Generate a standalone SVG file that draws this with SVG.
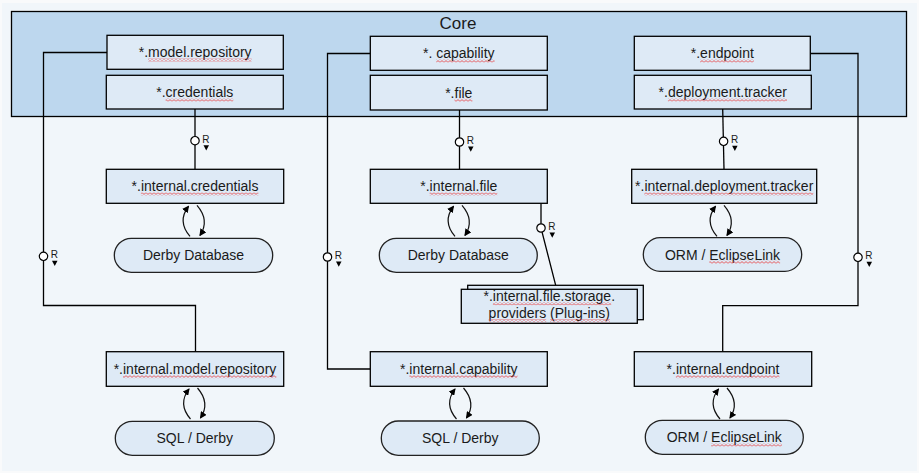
<svg xmlns="http://www.w3.org/2000/svg" xmlns:xlink="http://www.w3.org/1999/xlink" width="919" height="473" viewBox="0 0 919 473">
<style>
text{font-family:"Liberation Sans",Arial,sans-serif;font-size:14px;fill:#1a1a1a;text-anchor:middle}
.box{fill:#DEEAF6;stroke:#000;stroke-width:1.3}
.pill{fill:#DEEAF6;stroke:#222;stroke-width:1.3}
.ln{fill:none;stroke:#000;stroke-width:1.3}
.arc{fill:none;stroke:#111;stroke-width:1.2}
.sq{fill:url(#wave)}
.rt{font-size:10px;text-anchor:start}
</style>
<defs>
<pattern id="wave" patternUnits="userSpaceOnUse" x="0" y="0" width="4" height="3">
<path d="M0,2.4 L2,0.6 L4,2.4" fill="none" stroke="#e8393a" stroke-width="0.8"/>
</pattern>
<marker id="ah" markerUnits="userSpaceOnUse" markerWidth="7" markerHeight="7" refX="6" refY="3.5" orient="auto">
<path d="M0,0 L7,3.5 L0,7 z" fill="#000"/>
</marker>
<g id="loop">
<path class="arc" d="M-5,33 Q-18,18 -6.5,3" marker-end="url(#ah)"/>
<path class="arc" d="M2,2 Q15,17 5,32" marker-end="url(#ah)"/>
</g>
<g id="rmark">
<circle cx="0" cy="0" r="4.2" fill="#fff" stroke="#000" stroke-width="1.2"/>
<text class="rt" x="7.3" y="2">R</text>
<path d="M8.5,4.5 L14,4.5 L11.25,9.8 z" fill="#000"/>
</g>
</defs>
<rect x="0" y="0" width="919" height="473" fill="#F9FAFB"/>
<rect x="2" y="3" width="915" height="468" fill="#F1F6FA"/>

<g id="core">
<rect x="11.5" y="11.5" width="895" height="105" fill="#BDD7EE" stroke="#000" stroke-width="1.3"/>
<text x="458" y="29" style="font-size:17px">Core</text>
</g>

<g id="connectors">
<path class="ln" d="M107,52.5 H43.5 V305.5 H195.5 V351.7"/>
<path class="ln" d="M195,109 V169.3"/>
<path class="ln" d="M370.3,53.5 H327.5 V369 H370.3"/>
<path class="ln" d="M459.5,110 V169.3"/>
<path class="ln" d="M541,203.3 V228 L555.7,285.3"/>
<path class="ln" d="M722.7,109 L724,169.3"/>
<path class="ln" d="M810.3,53.5 H858 V305.7 H722.7 V351.7"/>
<use href="#rmark" x="43.5" y="256.3"/>
<use href="#rmark" x="195" y="140.7"/>
<use href="#rmark" x="327.5" y="257"/>
<use href="#rmark" x="459.5" y="142"/>
<use href="#rmark" x="541" y="228"/>
<use href="#rmark" x="723.6" y="141.3"/>
<use href="#rmark" x="858" y="257.3"/>
<use href="#loop" x="195" y="203.3"/>
<use href="#loop" x="460" y="203.3"/>
<use href="#loop" x="722" y="203.3"/>
<use href="#loop" x="195.5" y="386"/>
<use href="#loop" x="461.5" y="386"/>
<use href="#loop" x="725" y="386"/>
</g>

<g id="model-repository">
<rect class="box" x="107" y="35.3" width="176.3" height="34"/>
<text x="195.2" y="57.3">*.model.repository</text>
<rect class="sq" x="148.1" y="58.5" width="103.5" height="3"/>
</g>
<g id="credentials">
<rect class="box" x="106.3" y="75.3" width="177" height="33.7"/>
<text x="194.8" y="97.3">*.credentials</text>
<rect class="sq" x="165.6" y="98.5" width="67.7" height="3"/>
</g>
<g id="capability">
<rect class="box" x="370.3" y="36.3" width="177" height="34"/>
<text x="458.8" y="58.3">*. capability</text>
<rect class="sq" x="436.2" y="59.5" width="58.4" height="3"/>
</g>
<g id="file">
<rect class="box" x="370.3" y="75.3" width="177" height="34.7"/>
<text x="458.8" y="97.5">*.file</text>
<rect class="sq" x="454.5" y="98.7" width="17.9" height="3"/>
</g>
<g id="endpoint">
<rect class="box" x="634.3" y="36.3" width="176" height="34"/>
<text x="722.3" y="58.3">*.endpoint</text>
<rect class="sq" x="700.1" y="59.5" width="53.7" height="3"/>
</g>
<g id="deployment-tracker">
<rect class="box" x="634.3" y="75.3" width="177" height="33.7"/>
<text x="722.8" y="97.3">*.deployment.tracker</text>
<rect class="sq" x="667.9" y="98.5" width="119.1" height="3"/>
</g>

<g id="internal-credentials">
<rect class="box" x="106.3" y="169.3" width="177.4" height="34"/>
<text x="195" y="191.3">*.internal.credentials</text>
<rect class="sq" x="140.9" y="192.5" width="117.5" height="3"/>
</g>
<g id="internal-file">
<rect class="box" x="370.3" y="169.3" width="177" height="34"/>
<text x="458.8" y="191.3">*.internal.file</text>
<rect class="sq" x="429.6" y="192.5" width="67.7" height="3"/>
</g>
<g id="internal-deployment-tracker">
<rect class="box" x="631.7" y="169.3" width="185" height="34"/>
<text x="724.2" y="191.3">*.internal.deployment.tracker</text>
<rect class="sq" x="644.4" y="192.5" width="168.9" height="3"/>
</g>

<g id="derby-db-1">
<rect class="pill" x="114.3" y="238.3" width="158.4" height="34" rx="17"/>
<text x="193.5" y="260.3">Derby Database</text>
</g>
<g id="derby-db-2">
<rect class="pill" x="379.3" y="238.3" width="158" height="34" rx="17"/>
<text x="458.3" y="260.3">Derby Database</text>
</g>
<g id="orm-1">
<rect class="pill" x="643.3" y="237.7" width="158.4" height="33.6" rx="16.8"/>
<text x="722.5" y="259.5">ORM / EclipseLink</text>
<rect class="sq" x="709.3" y="260.7" width="70.8" height="3"/>
</g>

<g id="storage-providers">
<rect class="box" x="467.7" y="285.3" width="175.6" height="34.4"/>
<rect class="box" x="461.3" y="289.3" width="176" height="34"/>
<text x="549.3" y="301">*.internal.file.storage.</text>
<text x="549.3" y="318">providers (Plug-ins)</text>
<rect class="sq" x="492.9" y="302.2" width="118.3" height="3"/>
<rect class="sq" x="488.6" y="319.2" width="57.6" height="3"/>
<rect class="sq" x="550.1" y="319.2" width="59.9" height="3"/>
</g>

<g id="internal-model-repository">
<rect class="box" x="106.3" y="351.7" width="177.4" height="34.6"/>
<text x="195" y="374">*.internal.model.repository</text>
<rect class="sq" x="123" y="375.2" width="153.3" height="3"/>
</g>
<g id="internal-capability">
<rect class="box" x="370.3" y="351.7" width="177" height="34.6"/>
<text x="458.8" y="374">*.internal.capability</text>
<rect class="sq" x="409.4" y="375.2" width="108.1" height="3"/>
</g>
<g id="internal-endpoint">
<rect class="box" x="634.3" y="351.7" width="177.4" height="34.6"/>
<text x="723" y="374">*.internal.endpoint</text>
<rect class="sq" x="675.9" y="375.2" width="103.5" height="3"/>
</g>

<g id="sql-derby-1">
<rect class="pill" x="115.3" y="421.3" width="159" height="34" rx="17"/>
<text x="194.8" y="443.3">SQL / Derby</text>
</g>
<g id="sql-derby-2">
<rect class="pill" x="381.3" y="421" width="158" height="34.3" rx="17"/>
<text x="460.3" y="443">SQL / Derby</text>
</g>
<g id="orm-2">
<rect class="pill" x="645.3" y="420.3" width="158" height="34" rx="17"/>
<text x="724.3" y="442.3">ORM / EclipseLink</text>
<rect class="sq" x="711.1" y="443.5" width="70.8" height="3"/>
</g>
</svg>
